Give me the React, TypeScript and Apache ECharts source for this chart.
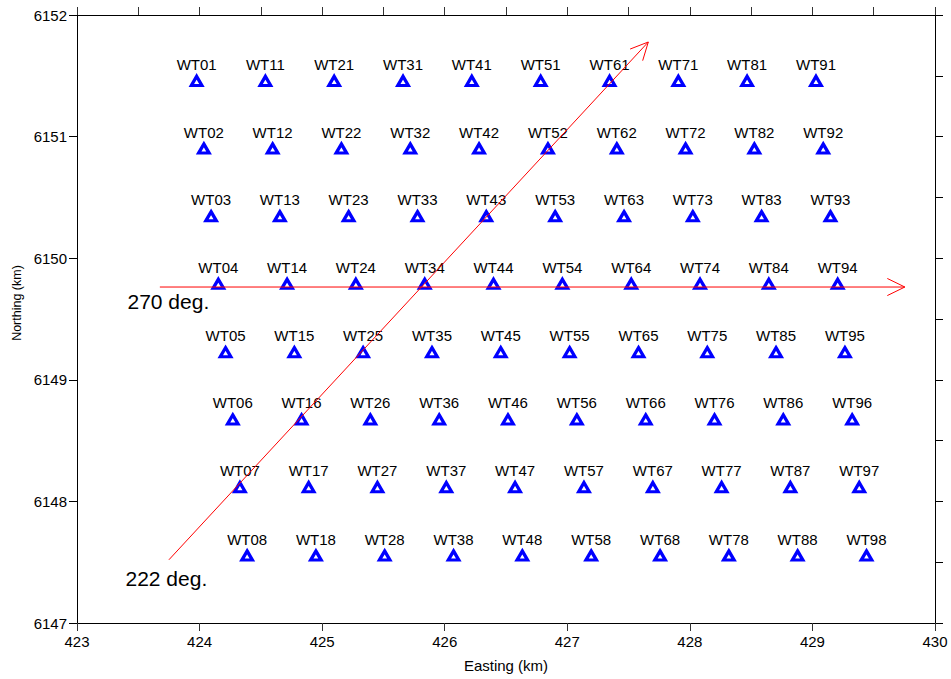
import React, { useEffect, useRef } from 'react';
import * as echarts from 'echarts';

const xTicks = [423, 424, 425, 426, 427, 428, 429, 430];
const yTicks = [6147, 6148, 6149, 6150, 6151, 6152];

const turbineNames = [
  'WT01', 'WT02', 'WT03', 'WT04', 'WT05', 'WT06', 'WT07', 'WT08',
  'WT11', 'WT12', 'WT13', 'WT14', 'WT15', 'WT16', 'WT17', 'WT18',
  'WT21', 'WT22', 'WT23', 'WT24', 'WT25', 'WT26', 'WT27', 'WT28',
  'WT31', 'WT32', 'WT33', 'WT34', 'WT35', 'WT36', 'WT37', 'WT38',
  'WT41', 'WT42', 'WT43', 'WT44', 'WT45', 'WT46', 'WT47', 'WT48',
  'WT51', 'WT52', 'WT53', 'WT54', 'WT55', 'WT56', 'WT57', 'WT58',
  'WT61', 'WT62', 'WT63', 'WT64', 'WT65', 'WT66', 'WT67', 'WT68',
  'WT71', 'WT72', 'WT73', 'WT74', 'WT75', 'WT76', 'WT77', 'WT78',
  'WT81', 'WT82', 'WT83', 'WT84', 'WT85', 'WT86', 'WT87', 'WT88',
  'WT91', 'WT92', 'WT93', 'WT94', 'WT95', 'WT96', 'WT97', 'WT98',
];

const turbineEasting = [
  423.976, 424.035, 424.094, 424.153, 424.212, 424.271, 424.329, 424.388,
  424.537, 424.596, 424.655, 424.714, 424.773, 424.832, 424.890, 424.949,
  425.098, 425.157, 425.216, 425.275, 425.334, 425.393, 425.451, 425.510,
  425.660, 425.719, 425.778, 425.837, 425.896, 425.955, 426.013, 426.072,
  426.221, 426.280, 426.339, 426.398, 426.457, 426.516, 426.574, 426.633,
  426.783, 426.842, 426.901, 426.960, 427.019, 427.078, 427.136, 427.195,
  427.345, 427.404, 427.463, 427.522, 427.581, 427.640, 427.698, 427.757,
  427.906, 427.965, 428.024, 428.083, 428.142, 428.201, 428.259, 428.318,
  428.467, 428.526, 428.585, 428.644, 428.703, 428.762, 428.820, 428.879,
  429.029, 429.088, 429.147, 429.206, 429.265, 429.324, 429.382, 429.441,
];

const turbineNorthing = [
  6151.458, 6150.902, 6150.345, 6149.789, 6149.227, 6148.674, 6148.117, 6147.555,
  6151.458, 6150.902, 6150.345, 6149.789, 6149.227, 6148.674, 6148.117, 6147.555,
  6151.458, 6150.902, 6150.345, 6149.789, 6149.227, 6148.674, 6148.117, 6147.555,
  6151.458, 6150.902, 6150.345, 6149.789, 6149.227, 6148.674, 6148.117, 6147.555,
  6151.458, 6150.902, 6150.345, 6149.789, 6149.227, 6148.674, 6148.117, 6147.555,
  6151.458, 6150.902, 6150.345, 6149.789, 6149.227, 6148.674, 6148.117, 6147.555,
  6151.458, 6150.902, 6150.345, 6149.789, 6149.227, 6148.674, 6148.117, 6147.555,
  6151.458, 6150.902, 6150.345, 6149.789, 6149.227, 6148.674, 6148.117, 6147.555,
  6151.458, 6150.902, 6150.345, 6149.789, 6149.227, 6148.674, 6148.117, 6147.555,
  6151.458, 6150.902, 6150.345, 6149.789, 6149.227, 6148.674, 6148.117, 6147.555,
];

// wind direction arrows
const arrowLabels = ['222 deg.', '270 deg.'];
const arrowStartEasting = [423.75, 423.676];
const arrowStartNorthing = [6147.52, 6149.763];
const arrowEndEasting = [427.661, 429.754];
const arrowEndNorthing = [6151.778, 6149.763];

const FONT = '"Liberation Sans", Arial, Helvetica, sans-serif';

export default function App() {
  const ref = useRef<HTMLDivElement>(null);

  useEffect(() => {
    if (!ref.current) return;
    const chart = echarts.init(ref.current, undefined, { renderer: 'svg' });

    const scatterData = turbineNames.map((n, i) => ({
      name: n,
      value: [turbineEasting[i], turbineNorthing[i]],
    }));
    const arrowData = arrowLabels.map((l, i) => ({
      name: l,
      value: [arrowStartEasting[i], arrowStartNorthing[i], arrowEndEasting[i], arrowEndNorthing[i]],
    }));

    const axisLineStyle = { color: '#000', width: 1 };

    chart.setOption({
      animation: false,
      backgroundColor: '#fff',
      grid: { left: 77, top: 15, right: 16, bottom: 56, containLabel: false },
      xAxis: [
        {
          type: 'value',
          position: 'bottom',
          min: xTicks[0],
          max: xTicks[xTicks.length - 1],
          interval: 1,
          name: 'Easting (km)',
          nameLocation: 'middle',
          nameGap: 35,
          nameTextStyle: { fontSize: 15, color: '#000', fontFamily: FONT },
          axisLine: { show: true, lineStyle: axisLineStyle },
          axisTick: { show: true, inside: false, length: 8, lineStyle: { color: '#333' } },
          axisLabel: {
            show: true,
            margin: 11,
            fontSize: 15,
            color: '#000',
            fontFamily: FONT,
            formatter: (v: number) => String(v),
          },
          splitLine: { show: false },
        },
        {
          type: 'value',
          position: 'top',
          min: xTicks[0],
          max: xTicks[xTicks.length - 1],
          interval: 0.5,
          axisLine: { show: true, onZero: false, lineStyle: axisLineStyle },
          axisTick: { show: true, inside: false, length: 8, lineStyle: { color: '#333' } },
          axisLabel: { show: false },
          splitLine: { show: false },
        },
      ],
      yAxis: [
        {
          type: 'value',
          position: 'left',
          min: yTicks[0],
          max: yTicks[yTicks.length - 1],
          interval: 1,
          axisLine: { show: true, lineStyle: axisLineStyle },
          axisTick: { show: true, inside: false, length: 8, lineStyle: { color: '#000' } },
          axisLabel: {
            show: true,
            margin: 10,
            fontSize: 15,
            color: '#000',
            fontFamily: FONT,
            formatter: (v: number) => String(v),
          },
          splitLine: { show: false },
        },
        {
          type: 'value',
          position: 'right',
          min: yTicks[0],
          max: yTicks[yTicks.length - 1],
          interval: 0.5,
          axisLine: { show: true, onZero: false, lineStyle: axisLineStyle },
          axisTick: { show: true, inside: false, length: 8, lineStyle: { color: '#000' } },
          axisLabel: { show: false },
          splitLine: { show: false },
        },
      ],
      series: [
        {
          type: 'scatter',
          xAxisIndex: 0,
          yAxisIndex: 0,
          symbol: 'triangle',
          symbolSize: [10.5, 9],
          itemStyle: {
            color: '#ffffff',
            borderColor: '#0000ff',
            borderWidth: 3.2,
            borderJoin: 'miter',
            opacity: 1,
          },
          label: {
            show: true,
            position: 'top',
            distance: 3,
            formatter: (p: any) => p.name,
            fontSize: 15,
            color: '#000',
            fontFamily: FONT,
          },
          emphasis: { disabled: true },
          data: scatterData,
          z: 2,
        },
        {
          type: 'custom',
          xAxisIndex: 0,
          yAxisIndex: 0,
          encode: { x: [0, 2], y: [1, 3] },
          clip: false,
          z: 5,
          silent: true,
          renderItem: (params: any, api: any) => {
            const p1 = api.coord([api.value(0), api.value(1)]);
            const p2 = api.coord([api.value(2), api.value(3)]);
            const ang = Math.atan2(p2[1] - p1[1], p2[0] - p1[0]);
            const L = 19.5;
            const a = (26 * Math.PI) / 180;
            const w1 = [p2[0] - L * Math.cos(ang - a), p2[1] - L * Math.sin(ang - a)];
            const w2 = [p2[0] - L * Math.cos(ang + a), p2[1] - L * Math.sin(ang + a)];
            return {
              type: 'group',
              children: [
                {
                  type: 'line',
                  shape: { x1: p1[0], y1: p1[1], x2: p2[0], y2: p2[1] },
                  style: { stroke: '#ff0000', lineWidth: 1, fill: null },
                },
                {
                  type: 'polyline',
                  shape: { points: [w1, p2, w2] },
                  style: { stroke: '#ff0000', lineWidth: 1, fill: null },
                },
              ],
            };
          },
          data: arrowData,
        },
      ],
      graphic: [
        {
          type: 'text',
          x: 127.5,
          y: 301.7,
          style: {
            text: arrowLabels[1],
            fontSize: 21,
            fontFamily: FONT,
            fill: '#000',
            align: 'left',
            verticalAlign: 'middle',
          },
        },
        {
          type: 'text',
          x: 125.5,
          y: 578.3,
          style: {
            text: arrowLabels[0],
            fontSize: 21,
            fontFamily: FONT,
            fill: '#000',
            align: 'left',
            verticalAlign: 'middle',
          },
        },
        {
          type: 'text',
          x: 17,
          y: 303,
          rotation: Math.PI / 2,
          style: {
            text: 'Northing (km)',
            fontSize: 12.5,
            fontFamily: FONT,
            fill: '#000',
            align: 'center',
            verticalAlign: 'middle',
          },
        },
      ],
    });

    return () => {
      chart.dispose();
    };
  }, []);

  return (
    <div
      ref={ref}
      style={{ position: 'fixed', left: 0, top: 0, width: 951, height: 679, background: '#fff' }}
    />
  );
}
